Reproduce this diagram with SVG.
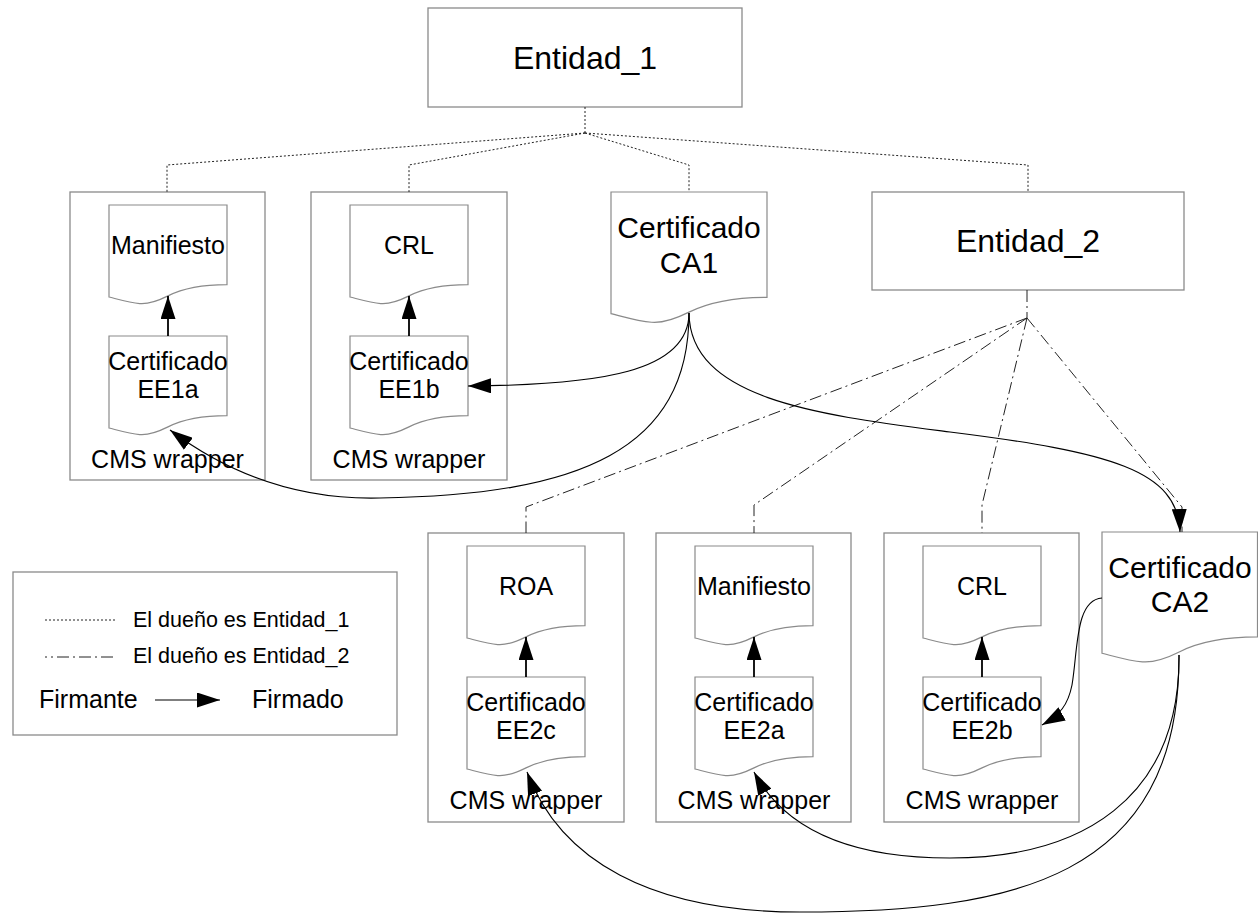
<svg xmlns="http://www.w3.org/2000/svg" xmlns:xlink="http://www.w3.org/1999/xlink" width="1258" height="915" viewBox="0 0 1258 915">
  <style>
    .box { fill: #ffffff; stroke: #8a8a8a; stroke-width: 1.3; }
    .lbl { font-family: "Liberation Sans", Arial, sans-serif; font-size: 25px; fill: #000; text-anchor: middle; }
    .big { font-family: "Liberation Sans", Arial, sans-serif; font-size: 30px; fill: #000; text-anchor: middle; }
    .ent { font-family: "Liberation Sans", Arial, sans-serif; font-size: 32px; fill: #000; text-anchor: middle; }
    .leg { font-family: "Liberation Sans", Arial, sans-serif; font-size: 21.5px; fill: #000; }
    .leg2 { font-family: "Liberation Sans", Arial, sans-serif; font-size: 25px; fill: #000; }
    .own1 { fill: none; stroke: #222; stroke-width: 1; stroke-dasharray: 2 2; }
    .own2 { fill: none; stroke: #222; stroke-width: 1; stroke-dasharray: 12 4 2 4; }
    .sign { fill: none; stroke: #000; stroke-width: 1.1; marker-end: url(#ah); }
    .sign2 { fill: none; stroke: #000; stroke-width: 1.8; marker-end: url(#ah); }
  </style>
  <defs>
    <!-- document shape, unit width 100 -->
    <path id="doc" d="M0,0 H100 V67.5 C75,67.5 60,72 50,77 C40,82 32,84 26,83.5 C18,83 8,80 0,78 Z"
          fill="#ffffff" stroke="#8a8a8a" stroke-width="1.2" vector-effect="non-scaling-stroke"/>
    <marker id="ah" markerUnits="userSpaceOnUse" markerWidth="23" markerHeight="15" viewBox="0 0 23 15" refX="23" refY="7.5" orient="auto">
      <path d="M0,0 L23,7.5 L0,15 z" fill="#000"/>
    </marker>
  </defs>

  <rect width="1258" height="915" fill="#ffffff"/>

  <g id="entidad1">
    <rect class="box" x="428" y="8" width="314" height="99"/>
    <text class="ent" x="585" y="69">Entidad_1</text>
  </g>

  <g id="entidad2">
    <rect class="box" x="872" y="192" width="312" height="98"/>
    <text class="ent" x="1028" y="252">Entidad_2</text>
  </g>

  <g id="cms-ee1a">
    <rect class="box" x="70" y="192" width="195" height="288"/>
    <use xlink:href="#doc" transform="translate(109,205) scale(1.18)"/>
    <text class="lbl" x="168" y="254">Manifiesto</text>
    <use xlink:href="#doc" transform="translate(109,336) scale(1.18)"/>
    <text class="lbl" x="168" y="370">Certificado</text>
    <text class="lbl" x="168" y="398">EE1a</text>
    <text class="lbl" x="167.5" y="468">CMS wrapper</text>
  </g>

  <g id="cms-ee1b">
    <rect class="box" x="311" y="192" width="196" height="288"/>
    <use xlink:href="#doc" transform="translate(350,205) scale(1.18)"/>
    <text class="lbl" x="409" y="254">CRL</text>
    <use xlink:href="#doc" transform="translate(350,336) scale(1.18)"/>
    <text class="lbl" x="409" y="370">Certificado</text>
    <text class="lbl" x="409" y="398">EE1b</text>
    <text class="lbl" x="409" y="468">CMS wrapper</text>
  </g>

  <g id="ca1">
    <use xlink:href="#doc" transform="translate(611,192) scale(1.56)"/>
    <text class="big" x="689" y="238">Certificado</text>
    <text class="big" x="689" y="273">CA1</text>
  </g>

  <g id="cms-ee2c">
    <rect class="box" x="428" y="533" width="196" height="289"/>
    <use xlink:href="#doc" transform="translate(467,546) scale(1.18)"/>
    <text class="lbl" x="526" y="595">ROA</text>
    <use xlink:href="#doc" transform="translate(467,677) scale(1.18)"/>
    <text class="lbl" x="526" y="711">Certificado</text>
    <text class="lbl" x="526" y="739">EE2c</text>
    <text class="lbl" x="526" y="809">CMS wrapper</text>
  </g>

  <g id="cms-ee2a">
    <rect class="box" x="656" y="533" width="195" height="289"/>
    <use xlink:href="#doc" transform="translate(695,546) scale(1.18)"/>
    <text class="lbl" x="754" y="595">Manifiesto</text>
    <use xlink:href="#doc" transform="translate(695,677) scale(1.18)"/>
    <text class="lbl" x="754" y="711">Certificado</text>
    <text class="lbl" x="754" y="739">EE2a</text>
    <text class="lbl" x="754" y="809">CMS wrapper</text>
  </g>

  <g id="cms-ee2b">
    <rect class="box" x="884" y="533" width="195" height="289"/>
    <use xlink:href="#doc" transform="translate(923,546) scale(1.18)"/>
    <text class="lbl" x="982" y="595">CRL</text>
    <use xlink:href="#doc" transform="translate(923,677) scale(1.18)"/>
    <text class="lbl" x="982" y="711">Certificado</text>
    <text class="lbl" x="982" y="739">EE2b</text>
    <text class="lbl" x="982" y="809">CMS wrapper</text>
  </g>

  <g id="ca2">
    <use xlink:href="#doc" transform="translate(1102,532) scale(1.555)"/>
    <text class="big" x="1180" y="578">Certificado</text>
    <text class="big" x="1180" y="612">CA2</text>
  </g>

  <g id="legend">
    <rect class="box" x="13" y="572" width="384" height="163"/>
    <path class="own1" d="M45,620 H115"/>
    <text class="leg" x="133" y="627">El dueño es Entidad_1</text>
    <path class="own2" d="M45,657 H115" stroke-dashoffset="10"/>
    <text class="leg" x="133" y="663">El dueño es Entidad_2</text>
    <text class="leg2" x="39" y="708">Firmante</text>
    <path class="sign" d="M155,700 H220"/>
    <text class="leg2" x="252" y="708">Firmado</text>
  </g>

  <!-- ownership and signing connectors, drawn over the nodes -->
  <g id="connectors">
    <!-- owned by Entidad_1 -->
    <path class="own1" d="M585,107 V133"/>
    <path class="own1" d="M585,133 L167,165 V192"/>
    <path class="own1" d="M585,133 L409,165 V192"/>
    <path class="own1" d="M585,133 L689,165 V192"/>
    <path class="own1" d="M585,133 L1028,165 V192"/>
    <!-- owned by Entidad_2 -->
    <path class="own2" d="M1027,290 V318"/>
    <path class="own2" d="M1027,318 L526,507 V533"/>
    <path class="own2" d="M1027,318 L754,505 V533"/>
    <path class="own2" d="M1027,318 L982,505 V533"/>
    <path class="own2" d="M1027,318 L1182,507 V532"/>
    <!-- signer to signed -->
    <path class="sign" d="M689,313 C689,372 600,385 468,386"/>
    <path class="sign" d="M689,313 C689,450 580,495 380,498 C300,500 230,475 170,430"/>
    <path class="sign" d="M689,313 C690,400 820,415 950,432 C1110,452 1178,470 1180,532"/>
    <path class="sign" d="M1102,598 C1075,600 1078,650 1072,685 C1068,705 1060,715 1042,725"/>
    <path class="sign" d="M1179,655 C1180,800 1080,858 950,858 C850,858 785,830 754,772"/>
    <path class="sign" d="M1179,655 C1180,880 1010,912 800,912 C650,912 560,860 527,772"/>
    <!-- EE certificates signing their objects -->
    <path class="sign2" d="M168,336 V296"/>
    <path class="sign2" d="M409,336 V296"/>
    <path class="sign2" d="M526,677 V637"/>
    <path class="sign2" d="M754,677 V637"/>
    <path class="sign2" d="M982,677 V637"/>
  </g>
</svg>
